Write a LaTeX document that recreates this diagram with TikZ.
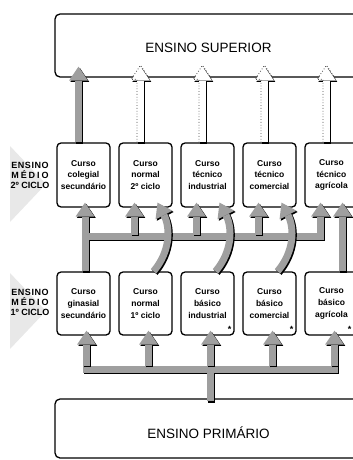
\documentclass[tikz,border=0pt]{standalone}
\usepackage{fontspec}
\setmainfont{Liberation Sans}
\usetikzlibrary{arrows.meta,calc,positioning}

\tikzset{
  nivel/.style={rectangle, draw, line width=1.3pt, rounded corners=5pt, fill=white, minimum width=307pt, minimum height=63pt, inner sep=0pt, font=\fontsize{13.5}{16}\selectfont},
  curso/.style={rectangle, draw, line width=1.3pt, rounded corners=4pt, fill=white, minimum width=53pt, minimum height=64pt, inner sep=0pt, align=center, font=\fontsize{8.5}{11.7}\selectfont\bfseries},
  ciclo/.style={align=center, inner sep=0pt, font=\fontsize{9}{10}\selectfont\bfseries},
  sombra/.style={preaction={draw=black, line width=7pt, transform canvas={xshift=1.3pt, yshift=-1.3pt}}},
  faixa/.style={sombra, draw=gray!75, line width=7pt},
  seta/.style={faixa, -{Triangle[width=19pt,length=14pt,line width=0pt]}},
  seta branca/.style={sombra, draw=white, line width=7pt, -{Triangle[width=19pt,length=14pt,line width=0pt]}},
  contorno/.style={dotted, line width=0.8pt, black!70},
  asterisco/.style={inner sep=0pt, font=\fontsize{9}{9}\selectfont\bfseries},
}

\begin{document}
\begin{tikzpicture}[x=1pt, y=-1pt]
    \path[use as bounding box, clip] (0,0) rectangle (353,460);

    % Side labels
    \fill[gray!18] (10,146) -- (10,222) -- (46,184) -- cycle;
    \fill[gray!18] (10,273) -- (10,349) -- (46,311) -- cycle;
    \node[ciclo] (medio2) at (30,175) {{\addfontfeature{LetterSpace=6}ENSINO}\\{\addfontfeature{LetterSpace=22}MÉDIO}\\2º CICLO};
    \node[ciclo] (medio1) at (30,302) {{\addfontfeature{LetterSpace=6}ENSINO}\\{\addfontfeature{LetterSpace=22}MÉDIO}\\1º CICLO};

    % Levels
    \node[nivel, text height=14pt, text depth=0pt] (sup) at (208.5,45.5) {ENSINO SUPERIOR};
    \node[nivel, minimum height=59pt, text height=20pt, text depth=0pt] (prim) at (208.5,428.5) {ENSINO PRIMÁRIO};

    % Ensino medio 2o ciclo
    \node[curso] (up1) at (83.5,175) {Curso\\colegial\\secundário};
    \node[curso] (up2) at (145.5,175) {Curso\\normal\\2º ciclo};
    \node[curso] (up3) at (207.5,175) {Curso\\técnico\\industrial};
    \node[curso] (up4) at (269.5,175) {Curso\\técnico\\comercial};
    \node[curso] (up5) at (331.5,175) {Curso\\técnico\\agrícola};

    % Ensino medio 1o ciclo
    \node[curso, minimum height=63pt] (lo1) at (83.5,303.5) {Curso\\ginasial\\secundário};
    \node[curso, minimum height=63pt] (lo2) at (145.5,303.5) {Curso\\normal\\1º ciclo};
    \node[curso, minimum height=63pt] (lo3) at (207.5,303.5) {Curso\\básico\\industrial};
    \node[curso, minimum height=63pt] (lo4) at (269.5,303.5) {Curso\\básico\\comercial};
    \node[curso, minimum height=63pt] (lo5) at (331.5,303.5) {Curso\\básico\\agrícola};
    \node[asterisco] (ast3) at ($(lo3.south east)+(-5,-6)$) {*};
    \node[asterisco] (ast4) at ($(lo4.south east)+(-5,-6)$) {*};
    \node[asterisco] (ast5) at ($(lo5.south east)+(-9,-6)$) {*};

    % To ensino superior
    \draw[seta] ($(up1.north)+(-5,0)$) -- ($(up1.north |- sup.south)+(-5,-11)$);
    \draw[seta branca] ($(up2.north)+(-5,0)$) -- ($(up2.north |- sup.south)+(-5,-11)$);
    \draw[seta branca] ($(up3.north)+(-5,0)$) -- ($(up3.north |- sup.south)+(-5,-11)$);
    \draw[seta branca] ($(up4.north)+(-5,0)$) -- ($(up4.north |- sup.south)+(-5,-11)$);
    \draw[seta branca] ($(up5.north)+(-5,0)$) -- ($(up5.north |- sup.south)+(-5,-11)$);
    \draw[contorno] ($(up2.north)+(-8.5,0)$) -- ++(0,-63) -- ++(-6,0) -- ++(9.5,-14) -- ++(9.5,14);
    \draw[contorno] ($(up3.north)+(-8.5,0)$) -- ++(0,-63) -- ++(-6,0) -- ++(9.5,-14) -- ++(9.5,14);
    \draw[contorno] ($(up4.north)+(-8.5,0)$) -- ++(0,-63) -- ++(-6,0) -- ++(9.5,-14) -- ++(9.5,14);
    \draw[contorno] ($(up5.north)+(-8.5,0)$) -- ++(0,-63) -- ++(-6,0) -- ++(9.5,-14) -- ++(9.5,14);

    % 1o ciclo to 2o ciclo
    \draw[seta] ($(lo1.north)+(1.5,0)$) -- ($(up1.south)+(1.5,-5)$);
    \draw[seta] ($(lo1.north)+(4.5,-35)$) -| ($(up5.south)+(-11,-5)$);
    \draw[seta] ($(up2.south)+(-11,27)$) -- ($(up2.south)+(-11,-5)$);
    \draw[seta] ($(up3.south)+(-11,27)$) -- ($(up3.south)+(-11,-5)$);
    \draw[seta] ($(up4.south)+(-11,27)$) -- ($(up4.south)+(-11,-5)$);
    \draw[seta] ($(lo2.north)+(8,0)$) .. controls +(17,-20) and +(13,25) .. ($(up2.south)+(12,-5)$);
    \draw[seta] ($(lo3.north)+(8,0)$) .. controls +(17,-20) and +(13,25) .. ($(up3.south)+(12,-5)$);
    \draw[seta] ($(lo4.north)+(8,0)$) .. controls +(17,-20) and +(13,25) .. ($(up4.south)+(12,-5)$);
    \draw[seta] ($(lo5.north)+(11,0)$) -- ($(up5.south)+(11,-5)$);

    % Ensino primario to 1o ciclo
    \draw[faixa] ($(lo1.south)+(-0.5,34)$) -- ($(lo5.south)+(6.5,34)$);
    \draw[seta] ($(lo1.south)+(3,30.5)$) -- ($(lo1.south)+(3,-5)$);
    \draw[seta] ($(lo2.south)+(3,30.5)$) -- ($(lo2.south)+(3,-5)$);
    \draw[seta] ($(lo3.south)+(3,30.5)$) -- ($(lo3.south)+(3,-5)$);
    \draw[seta] ($(lo4.south)+(3,30.5)$) -- ($(lo4.south)+(3,-5)$);
    \draw[seta] ($(lo5.south)+(3,30.5)$) -- ($(lo5.south)+(3,-5)$);
    \draw[faixa] ($(prim.north)+(2,3)$) -- ($(prim.north)+(2,-26.5)$);
\end{tikzpicture}
\end{document}
